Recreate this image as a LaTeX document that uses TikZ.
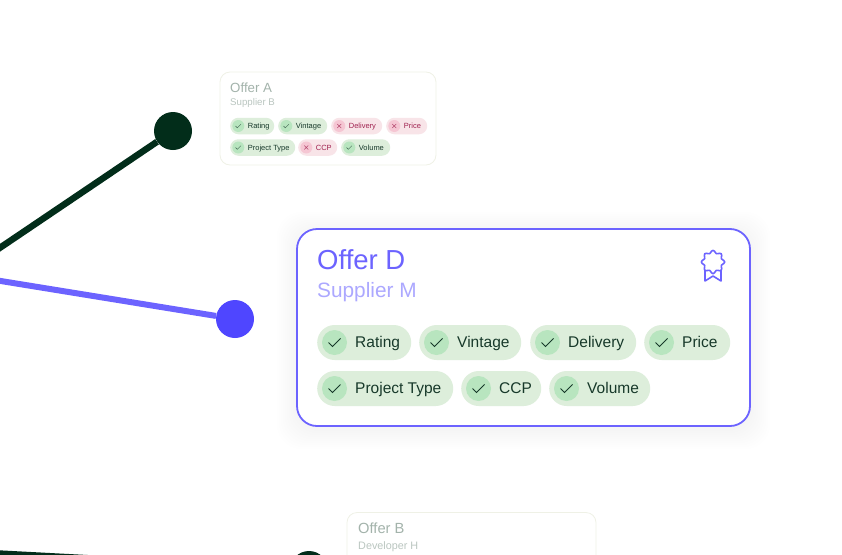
\documentclass[tikz,border=0pt]{standalone}
\usepackage{fontspec}
\setmainfont{Liberation Sans}
\usepackage{tikz}
\usetikzlibrary{calc}

\definecolor{darkgreen}{HTML}{022D1A}
\definecolor{violet}{HTML}{6C63FF}
\definecolor{violetdot}{HTML}{4F46FF}
\definecolor{violetsoft}{HTML}{ACA8FF}
\definecolor{chipgreen}{HTML}{DDEEDB}
\definecolor{markgreen}{HTML}{B8E5BF}
\definecolor{chiptext}{HTML}{17392A}
\definecolor{chippink}{HTML}{F8E4E8}
\definecolor{markpink}{HTML}{F5C6D3}
\definecolor{pinktext}{HTML}{A0214F}
\definecolor{cardedge}{HTML}{EFF1E6}
\definecolor{fadedtitle}{HTML}{A3B3AB}
\definecolor{fadedsub}{HTML}{BAC6C0}

\tikzset{
  px/.style={font=\fontsize{#1}{#1}\selectfont},
  dot/.style={draw=none, circle, minimum size=38pt, inner sep=0pt},
  link/.style={line width=6.5pt},
  card/.style={draw=cardedge, fill=white, line width=0.8pt, rounded corners=10pt, inner sep=0pt},
  label/.style={anchor=base west, inner sep=0pt},
  bigchip/.style={anchor=west, rounded corners=17.5pt, minimum height=35pt, inner sep=0pt},
  smallchip/.style={anchor=west, rounded corners=8.2pt, minimum height=16.5pt, inner sep=0pt},
  bigmark/.style={circle, fill=markgreen, minimum size=25pt, inner sep=0pt},
  smallmark/.style={circle, minimum size=12pt, inner sep=0pt},
}

\begin{document}
\begin{tikzpicture}[x=1pt,y=-1pt]

      \useasboundingbox (0,0) rectangle (842,554);
      \clip (0,0) rectangle (842,554);

      % dots and the free ends of the links
      \node (dotA) at (173,131) [dot, fill=darkgreen] {};
      \node (dotD) at (235,319) [dot, fill=violetdot] {};
      \node (dotB) at (309,570) [dot, fill=darkgreen] {};
      \coordinate (hubA) at (-30,268);
      \coordinate (hubD) at (-30,276);
      \coordinate (hubB) at (-30,552);

      \draw[link, darkgreen] (hubA) -- (dotA);
      \draw[link, violet, line width=6pt] (hubD) -- (dotD);
      \draw[link, darkgreen] (hubB) -- (dotB);

      % Offer A
      \node (cardA) at (328,118.5) [card, minimum width=216pt, minimum height=93pt] {};
      \node (titleA) at (230,92) [label, px=13.3, fadedtitle] {Offer A};
      \node (supplierA) at (230,105) [label, px=9.7, fadedsub] {Supplier B};

      \foreach \chipname/\xa/\xb/\yc/\chiplabel in {
        ratingA/230/274/126/Rating, vintageA/278/327/126/Vintage,
        projectA/230/295/147.5/Project Type, volumeA/341/390/147.5/Volume} {
        \pgfmathsetmacro\chipw{\xb-\xa}
        \node (\chipname) at (\xa,\yc) [smallchip, fill=chipgreen, minimum width=\chipw pt] {};
        \node (\chipname mark) at ($(\chipname.west)+(8.3,0)$) [smallmark, fill=markgreen] {};
        \draw[chiptext, opacity=0.75, line width=0.5pt] ([shift={(-2.8,0)}]\chipname mark.center) -- ++(1.8,1.8) -- ++(3.6,-3.6);
        \node (\chipname text) at ($(\chipname.west)+(17.7,2.7)$) [label, px=7.5, chiptext] {\chiplabel};
      }

      \foreach \chipname/\xa/\xb/\yc/\chiplabel in {
        deliveryA/331/382/126/Delivery, priceA/386/427/126/Price, ccpA/298/337/147.5/CCP} {
        \pgfmathsetmacro\chipw{\xb-\xa}
        \node (\chipname) at (\xa,\yc) [smallchip, fill=chippink, minimum width=\chipw pt] {};
        \node (\chipname mark) at ($(\chipname.west)+(8.3,0)$) [smallmark, fill=markpink] {};
        \draw[pinktext, opacity=0.75, line width=0.5pt] ([shift={(-2,-2)}]\chipname mark.center) -- ++(4,4)
          ([shift={(2,-2)}]\chipname mark.center) -- ++(-4,4);
        \node (\chipname text) at ($(\chipname.west)+(17.7,2.7)$) [label, px=7.5, pinktext] {\chiplabel};
      }

      % soft shadow below Offer D
      \foreach \spread in {2,4,...,20} {
        \fill[black, opacity=0.004, rounded corners=24pt]
          (297-\spread,232-\spread) rectangle (750+\spread,429+\spread);
      }

      % Offer D
      \node (cardD) at (523.5,327.5) [card, draw=violet, line width=1.8pt, rounded corners=20pt,
        minimum width=453pt, minimum height=197pt] {};
      \node (titleD) at (317,269) [label, px=27.5, violet] {Offer D};
      \node (supplierD) at (317,297) [label, px=20.8, violetsoft] {Supplier M};

      \foreach \chipname/\xa/\xb/\yc/\chiplabel in {
        ratingD/317/411/342.5/Rating, vintageD/419/521/342.5/Vintage,
        deliveryD/530/636/342.5/Delivery, priceD/644/730/342.5/Price,
        projectD/317/453/388.5/Project Type, ccpD/461/541/388.5/CCP,
        volumeD/549/650/388.5/Volume} {
        \pgfmathsetmacro\chipw{\xb-\xa}
        \node (\chipname) at (\xa,\yc) [bigchip, fill=chipgreen, minimum width=\chipw pt] {};
        \node (\chipname mark) at ($(\chipname.west)+(17.5,0)$) [bigmark] {};
        \draw[chiptext, line width=0.8pt] ([shift={(-6,0)}]\chipname mark.center) -- ++(4,4) -- ++(8,-8);
        \node (\chipname text) at ($(\chipname.west)+(38,5.3)$) [label, px=15.5, chiptext] {\chiplabel};
      }

      % rosette
      \node (rosette) at (713,262) [inner sep=0pt, minimum size=23pt] {};
      \draw[violet, line width=1.6pt, shift={(rosette.center)}]
        plot[smooth cycle, samples=48, domain=0:352.5, variable=\t]
          ({(10.3+1.3*cos(8*\t))*cos(\t)},{(10.3+1.3*cos(8*\t))*sin(\t)});
      \draw[violet, line width=1.6pt, line join=round] ([shift={(-8,9)}]rosette.center) -- ++(0,10) -- ++(8,-5) -- ++(8,5) -- ++(0,-10);

      % Offer B
      \node (cardB) at (471.5,567) [card, minimum width=249pt, minimum height=109pt] {};
      \node (titleB) at (358,533) [label, px=14.7, fadedtitle] {Offer B};
      \node (supplierB) at (358,549) [label, px=10.8, fadedsub] {Developer H};

    \end{tikzpicture}
\end{document}
